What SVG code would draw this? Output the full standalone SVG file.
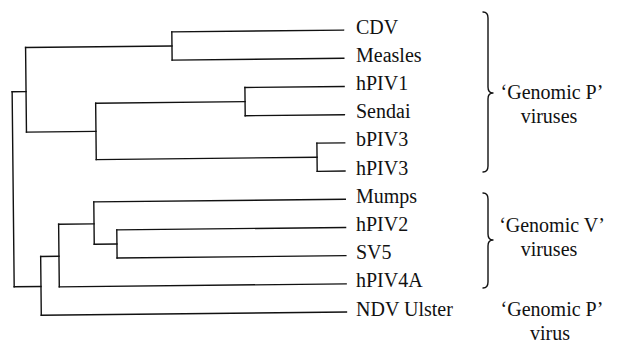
<svg xmlns="http://www.w3.org/2000/svg" width="633" height="346" viewBox="0 0 633 346">
  <style>
    .edge { fill: none; stroke: #111; stroke-width: 1.4; stroke-linecap: square; }
    .brace { fill: none; stroke: #111; stroke-width: 1.4; stroke-linecap: round; stroke-linejoin: round; }
    .leaf { font-family: "Liberation Serif", "Times New Roman", serif; font-size: 20px; fill: #111; }
    .note { font-family: "Liberation Serif", "Times New Roman", serif; font-size: 20px; fill: #111; text-anchor: middle; }
  </style>
  <rect width="633" height="346" fill="#fff"/>

  <!-- tree branches (slightly tilted as printed) -->
  <g id="connectors" class="edge" transform="rotate(-0.6 180 173)">
    <!-- terminal branches -->
    <path d="M173.3,31.8 H345 M173.3,60 H345 M245.8,88.2 H345 M245.8,116.4 H345 M317.2,144.6 H345 M317.2,172.8 H345"/>
    <path d="M93.5,201 H345 M116.2,229.2 H345 M116.2,257.4 H345 M58.1,285.6 H345 M39.8,313.8 H345"/>
    <!-- node verticals -->
    <path d="M173.3,31.8 V60 M245.8,88.2 V116.4 M317.2,144.6 V172.8 M96.4,102.3 V158.7 M26.9,45.9 V130.5"/>
    <path d="M116.2,229.2 V257.4 M93.5,201 V243.3 M58.1,223 V285.6 M39.8,255 V313.8 M13,90 V285"/>
    <!-- internal branches -->
    <path d="M26.9,45.9 H173.3 M96.4,102.3 H245.8 M96.4,158.7 H317.2 M26.9,130.5 H96.4 M13,90 H26.9"/>
    <path d="M93.5,243.3 H116.2 M58.1,223 H93.5 M39.8,255 H58.1 M13,285 H39.8"/>
  </g>

  <!-- leaf labels -->
  <g id="cdv"><text class="leaf" x="356" y="33.5">CDV</text></g>
  <g id="measles"><text class="leaf" x="356" y="61.7">Measles</text></g>
  <g id="hpiv1"><text class="leaf" x="356" y="89.9">hPIV1</text></g>
  <g id="sendai"><text class="leaf" x="356" y="118.1">Sendai</text></g>
  <g id="bpiv3"><text class="leaf" x="356" y="146.3">bPIV3</text></g>
  <g id="hpiv3"><text class="leaf" x="356" y="174.5">hPIV3</text></g>
  <g id="mumps"><text class="leaf" x="356" y="202.7">Mumps</text></g>
  <g id="hpiv2"><text class="leaf" x="356" y="230.9">hPIV2</text></g>
  <g id="sv5"><text class="leaf" x="356" y="259.1">SV5</text></g>
  <g id="hpiv4a"><text class="leaf" x="356" y="287.3">hPIV4A</text></g>
  <g id="ndv-ulster"><text class="leaf" x="356" y="315.5">NDV Ulster</text></g>

  <!-- group annotations -->
  <g id="group-genomic-p">
    <path class="brace" d="M483,12 Q488,12 488,18 V87 Q488,93 493,93 Q488,93 488,99 V166 Q488,172 483,172"/>
    <text class="note" x="552" y="99">‘Genomic P’</text>
    <text class="note" x="549" y="123">viruses</text>
  </g>
  <g id="group-genomic-v">
    <path class="brace" d="M483,193 Q488,193 488,199 V234 Q488,240 493,240 Q488,240 488,246 V282 Q488,288 483,288"/>
    <text class="note" x="552" y="232">‘Genomic V’</text>
    <text class="note" x="549" y="256">viruses</text>
  </g>
  <g id="group-ndv">
    <text class="note" x="552" y="316">‘Genomic P’</text>
    <text class="note" x="550" y="340">virus</text>
  </g>
</svg>
